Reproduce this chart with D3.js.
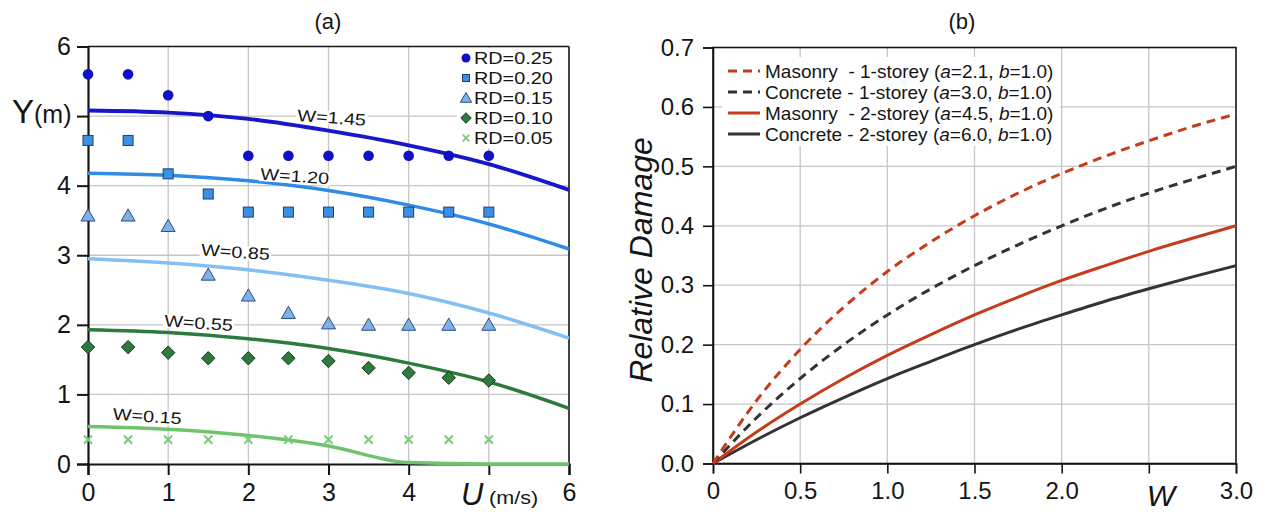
<!DOCTYPE html>
<html><head><meta charset="utf-8">
<script src="https://cdn.jsdelivr.net/npm/d3@7"></script>
<style>body{margin:0;background:#fff}svg{display:block}</style>
</head><body><svg id="c" width="1265" height="516"></svg>
<script>
// ---------- Panel (a) data ----------
const uPts = [0, 0.5, 1, 1.5, 2, 2.5, 3, 3.5, 4, 4.5, 5];
const rd025 = [5.6, 5.6, 5.3, 5.0, 4.43, 4.43, 4.43, 4.43, 4.43, 4.43, 4.43];
const rd020 = [4.65, 4.65, 4.17, 3.88, 3.62, 3.62, 3.62, 3.62, 3.62, 3.62, 3.62];
const rd015 = [3.55, 3.55, 3.4, 2.7, 2.4, 2.15, 2.0, 1.98, 1.98, 1.98, 1.98];
const rd010 = [1.68, 1.68, 1.6, 1.52, 1.52, 1.52, 1.48, 1.38, 1.31, 1.24, 1.2];
const rd005 = [0.35, 0.35, 0.35, 0.35, 0.35, 0.35, 0.35, 0.35, 0.35, 0.35, 0.35];
const rdNames = ["RD=0.25", "RD=0.20", "RD=0.15", "RD=0.10", "RD=0.05"];

const uLine = [0, 1, 2, 3, 4, 5, 6];
const w145 = [5.08, 5.05, 4.96, 4.79, 4.58, 4.31, 3.94];
const w120 = [4.18, 4.15, 4.07, 3.93, 3.72, 3.45, 3.09];
const w085 = [2.95, 2.89, 2.79, 2.64, 2.45, 2.17, 1.81];
const w055 = [1.93, 1.89, 1.8, 1.66, 1.45, 1.18, 0.8];
const uLine015 = [0, 1, 2, 3, 4, 5, 6];
const w015 = [0.54, 0.5, 0.41, 0.26, 0.02, 0, 0];
const wNames = ["W=1.45", "W=1.20", "W=0.85", "W=0.55", "W=0.15"];
const wLabelU = [3.04, 2.58, 1.84, 1.38, 0.74];
const wLabelY = [4.98, 4.14, 3.05, 2.03, 0.69];
const aXTicks = ["0", "1", "2", "3", "4", "", "6"];
const aYTicks = ["0", "1", "2", "3", "4", "", "6"];

// ---------- Panel (b) data ----------
const wPts = [0, 0.25, 0.5, 0.75, 1.0, 1.25, 1.5, 1.75, 2.0, 2.25, 2.5, 2.75, 3.0];
const masonry1 = [0, 0.106, 0.192, 0.263, 0.323, 0.373, 0.417, 0.455, 0.488, 0.517, 0.543, 0.567, 0.588];
const concrete1 = [0, 0.077, 0.143, 0.2, 0.25, 0.294, 0.333, 0.368, 0.4, 0.429, 0.455, 0.478, 0.5];
const masonry2 = [0, 0.053, 0.1, 0.143, 0.182, 0.217, 0.25, 0.28, 0.308, 0.333, 0.357, 0.379, 0.4];
const concrete2 = [0, 0.04, 0.077, 0.111, 0.143, 0.172, 0.2, 0.226, 0.25, 0.273, 0.294, 0.314, 0.333];
const bLegend = [
  ["Masonry  - 1-storey (", "2.1", "1.0"],
  ["Concrete - 1-storey (", "3.0", "1.0"],
  ["Masonry  - 2-storey (", "4.5", "1.0"],
  ["Concrete - 2-storey (", "6.0", "1.0"]
];
const bXTickVals = [0, 0.5, 1.0, 1.5, 2.0, 2.5, 3.0];
const bXTicks = ["0", "0.5", "1.0", "1.5", "2.0", "", "3.0"];
const bYTickVals = [0, 0.1, 0.2, 0.3, 0.4, 0.5, 0.6, 0.7];

const svg = d3.select("#c");
const F = "'Liberation Sans', Arial, sans-serif";
const FN = "'Liberation Sans Narrow', 'Arial Narrow', 'Liberation Sans', sans-serif";
const grid = "#c6c6c6";
const ink = "#151515";

// ================= Panel (a) =================
const xa = d3.scaleLinear().domain([0, 6]).range([88, 569]);
const ya = d3.scaleLinear().domain([0, 6]).range([464, 46.5]);
const ga = svg.append("g");

ga.append("g").selectAll("line").data(d3.range(1, 6)).join("line")
  .attr("x1", d => xa(d)).attr("x2", d => xa(d)).attr("y1", ya(0)).attr("y2", ya(6))
  .attr("stroke", grid).attr("stroke-width", 1.3);
ga.append("g").selectAll("line").data(d3.range(1, 6)).join("line")
  .attr("y1", d => ya(d)).attr("y2", d => ya(d)).attr("x1", xa(0)).attr("x2", xa(6))
  .attr("stroke", grid).attr("stroke-width", 1.3);

ga.append("rect").attr("x", 457).attr("y", 48).attr("width", 111).attr("height", 100).attr("fill", "#fff");

ga.append("line").attr("x1", xa(0)).attr("x2", xa(6)).attr("y1", ya(6)).attr("y2", ya(6)).attr("stroke", ink).attr("stroke-width", 1.6);
ga.append("line").attr("x1", xa(6)).attr("x2", xa(6)).attr("y1", ya(6)).attr("y2", ya(0)).attr("stroke", ink).attr("stroke-width", 1.6);

const axA = ga.append("g").attr("transform", `translate(0,${ya(0)})`)
  .call(d3.axisBottom(xa).tickValues(d3.range(0, 7)).tickSize(11).tickPadding(6).tickFormat((d, i) => aXTicks[i]));
const ayA = ga.append("g").attr("transform", `translate(${xa(0)},0)`)
  .call(d3.axisLeft(ya).tickValues(d3.range(0, 7)).tickSize(11).tickPadding(6).tickFormat((d, i) => aYTicks[i]));
[axA, ayA].forEach(a => {
  a.select(".domain").attr("stroke", ink).attr("stroke-width", 2.2);
  a.selectAll(".tick line").attr("stroke", ink).attr("stroke-width", 2);
  a.selectAll("text").attr("font-family", F).attr("font-size", 25).attr("fill", ink);
});
axA.selectAll("text").attr("dy", "0.8em");

const lineA = d3.line().x(d => xa(d[0])).y(d => ya(d[1])).curve(d3.curveMonotoneX);
const curves = [
  [uLine, w145, "#1717c9", 3.8],
  [uLine, w120, "#2f8ce6", 3.5],
  [uLine, w085, "#84bff2", 3.5],
  [uLine, w055, "#2c7a3c", 3.5],
  [uLine015, w015, "#6fc36f", 3.5]
];
curves.forEach(c => {
  ga.append("path").datum(c[0].map((u, i) => [u, c[1][i]]))
    .attr("d", lineA).attr("fill", "none").attr("stroke", c[2]).attr("stroke-width", c[3]);
});

wNames.forEach((name, i) => {
  const g = ga.append("g").attr("transform", `translate(${xa(wLabelU[i])},${ya(wLabelY[i])}) rotate(4) scale(1.2,1)`);
  const t = g.append("text").attr("text-anchor", "middle").attr("dy", "0.36em")
    .attr("font-family", F).attr("font-size", 16.5).attr("fill", ink).text(name);
  const bb = t.node().getBBox();
  g.insert("rect", "text").attr("x", bb.x - 1).attr("y", bb.y + 2).attr("width", bb.width + 2).attr("height", bb.height - 4).attr("fill", "#fff");
});

// markers
const mk = svg.append("g");
function pts(ys) { return uPts.map((u, i) => [xa(u), ya(ys[i])]); }
mk.selectAll(".c").data(pts(rd025)).join("circle").attr("cx", d => d[0]).attr("cy", d => d[1]).attr("r", 5.3).attr("fill", "#1010c4");
mk.selectAll(".s").data(pts(rd020)).join("rect").attr("x", d => d[0] - 5).attr("y", d => d[1] - 5).attr("width", 10).attr("height", 10).attr("fill", "#3b8fe6").attr("stroke", "#1e3f7a").attr("stroke-width", 1);
const tri = d3.symbol().type(d3.symbolTriangle).size(85);
mk.selectAll(".t").data(pts(rd015)).join("path").attr("d", tri).attr("transform", d => `translate(${d[0]},${d[1]})`).attr("fill", "#7fb1e3").attr("stroke", "#2a4c8c").attr("stroke-width", 1);
const dia = d3.symbol().type(d3.symbolDiamond2).size(115);
mk.selectAll(".d").data(pts(rd010)).join("path").attr("d", dia).attr("transform", d => `translate(${d[0]},${d[1]})`).attr("fill", "#2e7a3e").attr("stroke", "#103a18").attr("stroke-width", 1);
const cross = d3.symbol().type(d3.symbolX).size(45);
mk.selectAll(".x").data(pts(rd005)).join("path").attr("d", cross).attr("transform", d => `translate(${d[0]},${d[1]})`).attr("fill", "none").attr("stroke", "#7cc87c").attr("stroke-width", 2);

// legend (a)
const lg = svg.append("g");
const lgY = [58, 78, 98, 118, 138], lgX = 466;
lg.append("circle").attr("cx", lgX).attr("cy", lgY[0]).attr("r", 4.5).attr("fill", "#1010c4");
lg.append("rect").attr("x", lgX - 3.5).attr("y", lgY[1] - 3.5).attr("width", 7).attr("height", 7).attr("fill", "#3b8fe6").attr("stroke", "#1e3f7a");
lg.append("path").attr("d", d3.symbol().type(d3.symbolTriangle).size(55)).attr("transform", `translate(${lgX},${lgY[2] + 1})`).attr("fill", "#7fb1e3").attr("stroke", "#2a4c8c");
lg.append("path").attr("d", d3.symbol().type(d3.symbolDiamond2).size(70)).attr("transform", `translate(${lgX},${lgY[3]})`).attr("fill", "#2e7a3e").attr("stroke", "#103a18");
lg.append("path").attr("d", d3.symbol().type(d3.symbolX).size(30)).attr("transform", `translate(${lgX},${lgY[4]})`).attr("stroke", "#7cc87c").attr("stroke-width", 1.8);
lg.selectAll("g.lt").data(rdNames).join("g").attr("transform", (d, i) => `translate(${lgX + 8},${lgY[i]}) scale(1.2,1)`)
  .append("text").attr("dy", "0.36em").attr("font-family", F).attr("font-size", 16.5).attr("fill", ink).text(d => d);

// titles / axis labels (a)
svg.append("text").attr("x", 328).attr("y", 29).attr("text-anchor", "middle").attr("font-family", F).attr("font-size", 22).attr("fill", ink).text("(a)");
const yl = svg.append("text").attr("x", 12).attr("y", 123).attr("font-family", F).attr("fill", ink);
yl.append("tspan").attr("font-size", 33).text("Y");
yl.append("tspan").attr("font-size", 25).text("(m)");
svg.append("text").attr("x", 461).attr("y", 505).attr("font-family", F).attr("font-size", 31).attr("font-style", "italic").attr("fill", ink).text("U");
svg.append("g").attr("transform", "translate(489,504) scale(1.2,1)").append("text")
  .attr("font-family", F).attr("font-size", 18).attr("fill", ink).text("(m/s)");

// ================= Panel (b) =================
const xb = d3.scaleLinear().domain([0, 3]).range([713, 1236]);
const yb = d3.scaleLinear().domain([0, 0.7]).range([463.5, 47.5]);
const gb = svg.append("g");
gb.append("g").selectAll("line").data(bXTickVals.slice(1, 6)).join("line")
  .attr("x1", d => xb(d)).attr("x2", d => xb(d)).attr("y1", yb(0)).attr("y2", yb(0.7))
  .attr("stroke", grid).attr("stroke-width", 1.3);
gb.append("g").selectAll("line").data(bYTickVals.slice(1, 7)).join("line")
  .attr("y1", d => yb(d)).attr("y2", d => yb(d)).attr("x1", xb(0)).attr("x2", xb(3))
  .attr("stroke", grid).attr("stroke-width", 1.3);

gb.append("rect").attr("x", 722).attr("y", 57).attr("width", 338).attr("height", 89).attr("fill", "#fff");

gb.append("rect").attr("x", xb(0)).attr("y", yb(0.7)).attr("width", xb(3) - xb(0)).attr("height", yb(0) - yb(0.7))
  .attr("fill", "none").attr("stroke", ink).attr("stroke-width", 1.6);

const axB = gb.append("g").attr("transform", `translate(0,${yb(0)})`)
  .call(d3.axisBottom(xb).tickValues(bXTickVals).tickSize(10).tickPadding(6).tickFormat((d, i) => bXTicks[i]));
const ayB = gb.append("g").attr("transform", `translate(${xb(0)},0)`)
  .call(d3.axisLeft(yb).tickValues(bYTickVals).tickSize(10).tickPadding(9).tickFormat(d3.format(".1f")));
[axB, ayB].forEach(a => {
  a.select(".domain").attr("stroke", ink).attr("stroke-width", 1.6);
  a.selectAll(".tick line").attr("stroke", ink).attr("stroke-width", 1.6);
  a.selectAll("text").attr("font-family", F).attr("font-size", 24).attr("fill", ink);
});
axB.selectAll("text").attr("dy", "0.8em");

const lineB = d3.line().x(d => xb(d[0])).y(d => yb(d[1])).curve(d3.curveMonotoneX);
const series = [
  [masonry1, "#c63c1a", "9,6"],
  [concrete1, "#333333", "9,6"],
  [masonry2, "#c63c1a", null],
  [concrete2, "#333333", null]
];
series.slice().reverse().forEach(s => {
  gb.append("path").datum(wPts.map((w, i) => [w, s[0][i]])).attr("d", lineB)
    .attr("fill", "none").attr("stroke", s[1]).attr("stroke-width", 3)
    .attr("stroke-dasharray", s[2]);
});

const lbY = [71, 92, 113, 134];
series.forEach((s, i) => {
  gb.append("line").attr("x1", 728).attr("x2", 760).attr("y1", lbY[i]).attr("y2", lbY[i])
    .attr("stroke", s[1]).attr("stroke-width", 3).attr("stroke-dasharray", s[2] ? "9,6" : null);
  const t = gb.append("text").attr("x", 765).attr("y", lbY[i]).attr("dy", "0.36em")
    .attr("font-family", FN).attr("font-size", 19).attr("fill", ink).attr("xml:space", "preserve");
  t.append("tspan").text(bLegend[i][0]);
  t.append("tspan").attr("font-style", "italic").text("a");
  t.append("tspan").text("=" + bLegend[i][1] + ", ");
  t.append("tspan").attr("font-style", "italic").text("b");
  t.append("tspan").text("=" + bLegend[i][2] + ")");
});

svg.append("text").attr("x", 962).attr("y", 29).attr("text-anchor", "middle").attr("font-family", F).attr("font-size", 22).attr("fill", ink).text("(b)");
svg.append("text").attr("transform", `translate(652,260) rotate(-90)`).attr("text-anchor", "middle")
  .attr("font-family", F).attr("font-style", "italic").attr("font-size", 32).attr("fill", ink).text("Relative Damage");
svg.append("text").attr("x", 1161).attr("y", 506).attr("text-anchor", "middle").attr("font-family", F).attr("font-style", "italic").attr("font-size", 30).attr("fill", ink).text("W");
</script></body></html>
